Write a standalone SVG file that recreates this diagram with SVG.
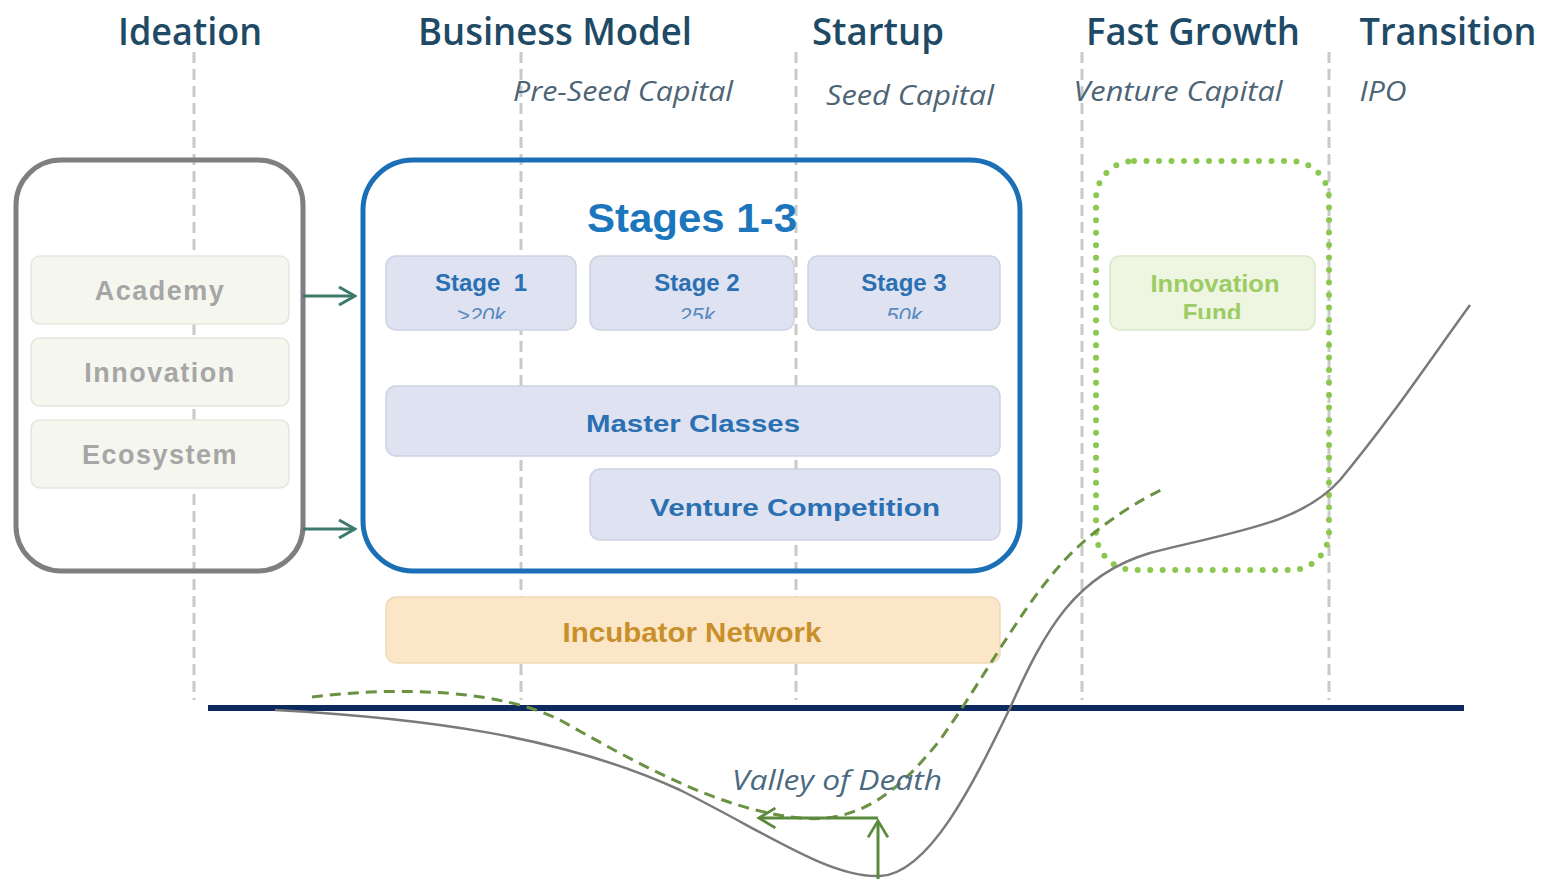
<svg xmlns="http://www.w3.org/2000/svg" width="1547" height="879" viewBox="0 0 1547 879">
<style>
.hdr{font-family:"Open Sans","Liberation Sans",sans-serif;font-weight:600;font-size:38px;fill:#1e4a66;text-anchor:middle}
.sub{font-family:"Open Sans","Liberation Sans",sans-serif;font-style:italic;font-size:28px;fill:#4d6475;text-anchor:middle}
.vline{stroke:#c9c9c9;stroke-width:3;stroke-dasharray:11 6;fill:none}
.pale{fill:#f5f7ef;stroke:#e4e7dc;stroke-width:1.5}
.paleT{font-family:"Liberation Sans",Arial,sans-serif;font-weight:bold;font-size:27px;fill:#a6a6a6;text-anchor:middle;letter-spacing:1.5px}
.st{fill:#dfe3f1;stroke:#cdd2e2;stroke-width:1.5}
.stT{font-family:"Liberation Sans",Arial,sans-serif;font-weight:bold;font-size:24px;fill:#2a70b2;text-anchor:middle}
.stS{font-family:"Liberation Sans",Arial,sans-serif;font-style:italic;font-size:22px;fill:#5a8ac0;text-anchor:middle}
.arr{stroke:#3d7a6c;stroke-width:3;fill:none}
</style>
<defs>
<marker id="ah" viewBox="0 0 20 20" refX="18" refY="10" markerWidth="20" markerHeight="20" markerUnits="userSpaceOnUse" orient="auto">
<path d="M2,1 L18,10 L2,19" fill="none" stroke="#3d7a6c" stroke-width="3"/>
</marker>
<marker id="ahg" viewBox="0 0 20 20" refX="16" refY="10" markerWidth="22" markerHeight="22" markerUnits="userSpaceOnUse" orient="auto">
<path d="M2,1 L17,10 L2,19" fill="none" stroke="#5b8a3c" stroke-width="2.5"/>
</marker>
<clipPath id="c1"><rect x="386" y="256" width="190" height="63"/></clipPath>
<clipPath id="c2"><rect x="590" y="256" width="204" height="63"/></clipPath>
<clipPath id="c3"><rect x="808" y="256" width="192" height="63"/></clipPath>
<clipPath id="c4"><rect x="1110" y="256" width="205" height="63"/></clipPath>
</defs>
<rect width="1547" height="879" fill="#ffffff"/>

<g id="gridlines">
<line class="vline" x1="194" y1="52" x2="194" y2="700"/>
<line class="vline" x1="521" y1="52" x2="521" y2="700"/>
<line class="vline" x1="796" y1="52" x2="796" y2="700"/>
<line class="vline" x1="1082" y1="52" x2="1082" y2="700"/>
<line class="vline" x1="1329" y1="52" x2="1329" y2="700"/>
</g>

<g id="headers">
<text class="hdr" x="190" y="45" textLength="144" lengthAdjust="spacingAndGlyphs">Ideation</text>
<text class="hdr" x="555" y="45" textLength="274" lengthAdjust="spacingAndGlyphs">Business Model</text>
<text class="hdr" x="878" y="45" textLength="132" lengthAdjust="spacingAndGlyphs">Startup</text>
<text class="hdr" x="1193" y="45" textLength="214" lengthAdjust="spacingAndGlyphs">Fast Growth</text>
<text class="hdr" x="1448" y="45" textLength="177" lengthAdjust="spacingAndGlyphs">Transition</text>
<text class="sub" x="623" y="101" textLength="220" lengthAdjust="spacingAndGlyphs">Pre-Seed Capital</text>
<text class="sub" x="910" y="105" textLength="168" lengthAdjust="spacingAndGlyphs">Seed Capital</text>
<text class="sub" x="1178" y="101" textLength="209" lengthAdjust="spacingAndGlyphs">Venture Capital</text>
<text class="sub" x="1383" y="101" textLength="47" lengthAdjust="spacingAndGlyphs">IPO</text>
</g>

<g id="ideation-box">
<rect x="16" y="160" width="287" height="411" rx="45" fill="none" stroke="#7f7f7f" stroke-width="5"/>
</g>
<g id="academy">
<rect class="pale" x="31" y="256" width="258" height="68" rx="9"/>
<text class="paleT" x="160" y="300">Academy</text>
</g>
<g id="innovation">
<rect class="pale" x="31" y="338" width="258" height="68" rx="9"/>
<text class="paleT" x="160" y="382">Innovation</text>
</g>
<g id="ecosystem">
<rect class="pale" x="31" y="420" width="258" height="68" rx="9"/>
<text class="paleT" x="160" y="464">Ecosystem</text>
</g>

<g id="stages-box">
<rect x="363" y="160" width="657" height="411" rx="50" fill="none" stroke="#1a6fb7" stroke-width="5"/>
<text x="692" y="232" font-family="Liberation Sans,Arial,sans-serif" font-size="40" font-weight="bold" fill="#1b76bd" text-anchor="middle" textLength="210" lengthAdjust="spacingAndGlyphs">Stages 1-3</text>
</g>
<g id="stage1">
<rect class="st" x="386" y="256" width="190" height="74" rx="10"/>
<text class="stT" x="481" y="291" xml:space="preserve">Stage  1</text>
<text class="stS" x="481" y="323" clip-path="url(#c1)">&gt;20k</text>
</g>
<g id="stage2">
<rect class="st" x="590" y="256" width="204" height="74" rx="10"/>
<text class="stT" x="697" y="291">Stage 2</text>
<text class="stS" x="697" y="323" clip-path="url(#c2)">25k</text>
</g>
<g id="stage3">
<rect class="st" x="808" y="256" width="192" height="74" rx="10"/>
<text class="stT" x="904" y="291">Stage 3</text>
<text class="stS" x="904" y="323" clip-path="url(#c3)">50k</text>
</g>
<g id="master-classes">
<rect class="st" x="386" y="386" width="614" height="70" rx="10"/>
<text class="stT" x="693" y="432" font-size="27" textLength="214" lengthAdjust="spacingAndGlyphs">Master Classes</text>
</g>
<g id="venture-competition">
<rect class="st" x="590" y="469" width="410" height="71" rx="10"/>
<text class="stT" x="795" y="516" font-size="29" textLength="290" lengthAdjust="spacingAndGlyphs">Venture Competition</text>
</g>

<g id="fund-box">
<rect x="1096" y="161" width="233" height="409" rx="38" fill="none" stroke="#8cc84f" stroke-width="6" stroke-linecap="round" stroke-dasharray="0 12.5"/>
</g>
<g id="innovation-fund">
<rect x="1110" y="256" width="205" height="74" rx="10" fill="#eef5e1" stroke="#dce7cc" stroke-width="1.5"/>
<text x="1215" y="292" font-family="Liberation Sans,Arial,sans-serif" font-weight="bold" font-size="24" fill="#9ccc63" text-anchor="middle" textLength="129" lengthAdjust="spacingAndGlyphs">Innovation</text>
<text x="1212" y="321" font-family="Liberation Sans,Arial,sans-serif" font-weight="bold" font-size="24" fill="#9ccc63" text-anchor="middle" clip-path="url(#c4)">Fund</text>
</g>

<g id="incubator-network">
<rect x="386" y="597" width="614" height="66" rx="10" fill="#fbe7c7" stroke="#eedab8" stroke-width="1.5"/>
<text x="692" y="642" font-family="Liberation Sans,Arial,sans-serif" font-weight="bold" font-size="28" fill="#c98f2a" text-anchor="middle" textLength="259" lengthAdjust="spacingAndGlyphs">Incubator Network</text>
</g>

<g id="connectors">
<line class="arr" x1="303" y1="296" x2="355" y2="296" marker-end="url(#ah)"/>
<line class="arr" x1="303" y1="529" x2="355" y2="529" marker-end="url(#ah)"/>
<line x1="208" y1="708" x2="1464" y2="708" stroke="#0c2a5e" stroke-width="6"/>
<path d="M275,710 C420,718 560,735 680,790 C770,835 830,878 880,876 C930,874 975,780 1010,708 C1045,630 1075,575 1150,553 C1230,532 1300,525 1340,480 C1390,420 1430,360 1470,305" fill="none" stroke="#7a7a7a" stroke-width="2.5"/>
<path d="M312,697 C400,686 500,690 560,720 C640,765 720,810 800,818 C860,824 900,790 940,740 C990,670 1030,590 1080,545 C1110,518 1140,500 1165,488" fill="none" stroke="#6b9142" stroke-width="3" stroke-dasharray="11 7"/>
<line x1="878" y1="818" x2="760" y2="818" stroke="#5b8a3c" stroke-width="3" marker-end="url(#ahg)"/>
<line x1="878" y1="879" x2="878" y2="822" stroke="#5b8a3c" stroke-width="3" marker-end="url(#ahg)"/>
</g>

<g id="valley-label">
<text x="837" y="790" font-family="Open Sans,Liberation Sans,sans-serif" font-style="italic" font-size="28" fill="#4a6a80" text-anchor="middle" textLength="210" lengthAdjust="spacingAndGlyphs">Valley of  Death</text>
</g>
</svg>
